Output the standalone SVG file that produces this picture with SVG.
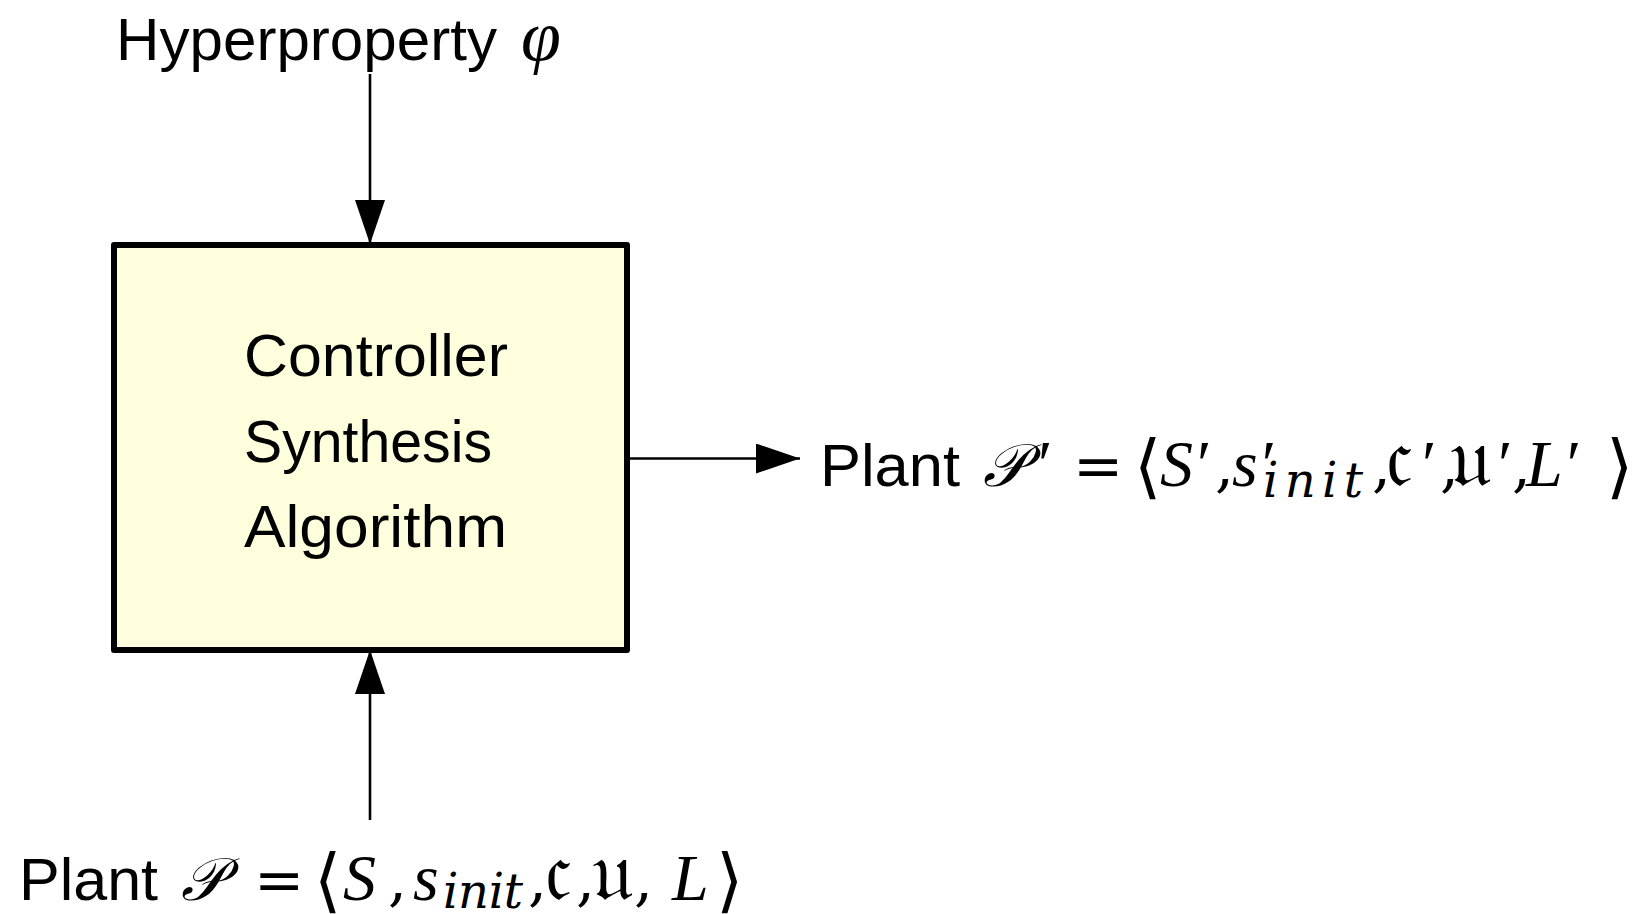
<svg xmlns="http://www.w3.org/2000/svg" width="1649" height="914" viewBox="0 0 1649 914">
<defs>
<style>
.sans{font-family:"Liberation Sans","DejaVu Sans",sans-serif;font-size:60px;fill:#000}
.math{font-family:"Liberation Serif","DejaVu Serif",serif;font-size:66px;font-style:italic;fill:#000}
.cal{font-size:60px}
.rm{font-family:"DejaVu Serif","Liberation Serif",serif;font-size:60px;font-style:normal;fill:#000}
.br{font-family:"DejaVu Serif","Liberation Serif",serif;font-size:70px;font-style:normal;fill:#000}
.frak{font-family:"DejaVu Serif","DejaVu Sans",serif;font-size:84px;font-style:normal;fill:#000}
.sub{font-family:"DejaVu Serif","Liberation Serif",serif;font-style:italic;font-size:48px}
.conn{stroke:#000;stroke-width:2.6;fill:none}
</style>
<marker id="arr" viewBox="0 0 44 30" refX="44" refY="15" markerWidth="44" markerHeight="30" markerUnits="userSpaceOnUse" orient="auto">
<path d="M0,0 L44,15 L0,30 Z" fill="#000"/>
</marker>
</defs>
<rect width="1649" height="914" fill="#fff"/>
<g id="connectors">
<line class="conn" x1="370" y1="74" x2="370" y2="244" marker-end="url(#arr)"/>
<line class="conn" x1="627" y1="458.5" x2="800" y2="458.5" marker-end="url(#arr)"/>
<line class="conn" x1="370" y1="820" x2="370" y2="650" marker-end="url(#arr)"/>
</g>
<g id="synthesis">
<rect x="114" y="245" width="513" height="405" fill="#FFFEDD" stroke="#000" stroke-width="6" stroke-linejoin="round"/>
<text class="sans" x="244" y="376" textLength="264" lengthAdjust="spacingAndGlyphs">Controller</text>
<text class="sans" x="244" y="462" textLength="248" lengthAdjust="spacingAndGlyphs">Synthesis</text>
<text class="sans" x="244" y="547" textLength="263" lengthAdjust="spacingAndGlyphs">Algorithm</text>
</g>
<g id="hyperproperty">
<text class="sans" x="116" y="60" textLength="381" lengthAdjust="spacingAndGlyphs">Hyperproperty</text>
<text class="math" x="521" y="60" style="font-size:72px">φ</text>
</g>
<g id="plant-out">
<text class="sans" x="820" y="486" textLength="140" lengthAdjust="spacingAndGlyphs">Plant</text>
<text class="math" y="486"><tspan class="cal" x="983">𝒫</tspan><tspan x="1034">′</tspan><tspan class="rm" x="1073">=</tspan><tspan class="br" x="1134" y="490">⟨</tspan><tspan x="1160" y="486">S′</tspan><tspan class="rm" x="1215">,</tspan><tspan x="1232">s′</tspan><tspan class="sub" x="1263" y="497" textLength="100" lengthAdjust="spacing">init</tspan><tspan class="rm" x="1372" y="486">,</tspan><tspan class="frak" x="1386">𝔠</tspan><tspan x="1418">′</tspan><tspan class="rm" x="1440">,</tspan><tspan class="frak" x="1450">𝔲</tspan><tspan x="1494">′</tspan><tspan class="rm" x="1512">,</tspan><tspan x="1526">L′</tspan><tspan class="br" x="1606" y="490">⟩</tspan></text>
</g>
<g id="plant-in">
<text class="sans" x="19" y="900" textLength="139" lengthAdjust="spacingAndGlyphs">Plant</text>
<text class="math" y="900"><tspan class="cal" x="181">𝒫</tspan><tspan class="rm" x="254">=</tspan><tspan class="br" x="314" y="904">⟨</tspan><tspan x="343" y="900">S</tspan><tspan class="rm" x="388">,</tspan><tspan x="413">s</tspan><tspan class="sub" x="443" y="908" textLength="80" lengthAdjust="spacing">init</tspan><tspan class="rm" x="528" y="900">,</tspan><tspan class="frak" x="545">𝔠</tspan><tspan class="rm" x="576">,</tspan><tspan class="frak" x="592">𝔲</tspan><tspan class="rm" x="634">,</tspan><tspan x="672">L</tspan><tspan class="br" x="716" y="904">⟩</tspan></text>
</g>
</svg>
